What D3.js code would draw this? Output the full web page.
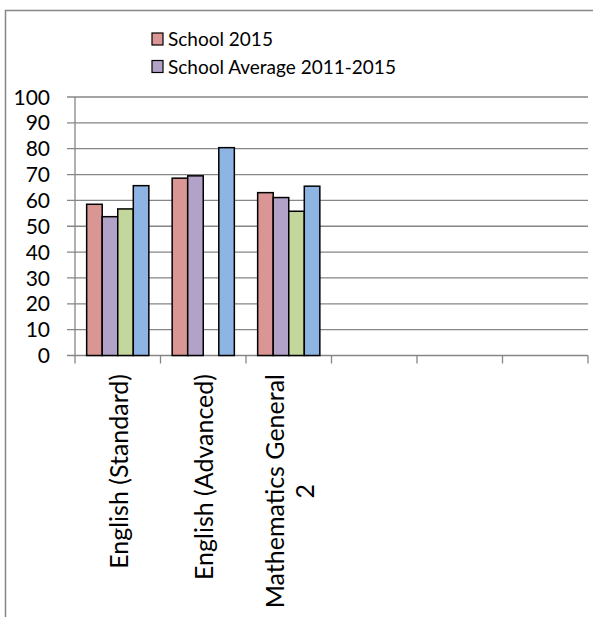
<!DOCTYPE html>
<html>
<head>
<meta charset="utf-8">
<script src="https://cdn.jsdelivr.net/npm/d3@7/dist/d3.min.js"></script>
<style>
  html, body { margin: 0; padding: 0; background: #fff; }
  svg { display: block; font-family: Lato, "Open Sans", sans-serif; }
</style>
</head>
<body>
<svg id="chart" width="593" height="617"></svg>
<script>
// Subject categories (the last three slots are empty in the source workbook)
const categories = ["English (Standard)", "English (Advanced)", "Mathematics General 2", "", "", ""];
const categoryLines = [["English (Standard)"], ["English (Advanced)"], ["Mathematics General", "2"], [], [], []];

// Series
const seriesNames = ["School 2015", "School Average 2011-2015", "State 2015", "State Average 2011-2015"];
const school2015 = [58.5, 68.6, 63.0];
const schoolAvg = [53.7, 69.5, 61.1];
const state2015 = [56.7, null, 55.8];
const stateAvg = [65.7, 80.4, 65.5];
const seriesValues = [school2015, schoolAvg, state2015, stateAvg];
const seriesColors = ["#D99694", "#B3A2C7", "#C3D69B", "#8EB4E3"];

// Legend shows the first two series
const legendEntries = [0, 1];

// Y axis ticks
const yTicks = [0, 10, 20, 30, 40, 50, 60, 70, 80, 90, 100];

const svg = d3.select("#chart");
const gridColor = "#868686";

// Outer chart frame
svg.append("rect")
  .attr("x", 5.5).attr("y", 10.5)
  .attr("width", 700).attr("height", 700)
  .attr("fill", "none").attr("stroke", gridColor).attr("stroke-width", 1.5);

const plot = { left: 75, right: 588, top: 97, bottom: 355.5 };

const x = d3.scaleBand()
  .domain(d3.range(categories.length))
  .range([plot.left, plot.right])
  .paddingInner(0).paddingOuter(0);

const xInner = d3.scaleBand()
  .domain(d3.range(seriesNames.length))
  .range([0, x.bandwidth()])
  .paddingInner(0).paddingOuter(0.75);

const y = d3.scaleLinear().domain([0, 100]).range([plot.bottom, plot.top]);

// Horizontal gridlines with left tick stubs
svg.append("g")
  .selectAll("line")
  .data(yTicks)
  .join("line")
  .attr("x1", plot.left - 8).attr("x2", plot.right)
  .attr("y1", d => y(d)).attr("y2", d => y(d))
  .attr("stroke", gridColor).attr("stroke-width", 1.3);

// Y axis line
svg.append("line")
  .attr("x1", plot.left).attr("x2", plot.left)
  .attr("y1", plot.top).attr("y2", plot.bottom)
  .attr("stroke", gridColor).attr("stroke-width", 1.3);

// Y tick labels
svg.append("g")
  .selectAll("text")
  .data(yTicks)
  .join("text")
  .attr("x", 50).attr("y", d => y(d))
  .attr("dy", "0.36em")
  .attr("text-anchor", "end")
  .attr("font-size", 21)
  .attr("fill", "#000")
  .text(d => d);

// X axis tick marks at category boundaries
const boundaries = d3.range(categories.length + 1).map(i => i < categories.length ? x(i) : x(i - 1) + x.bandwidth());
svg.append("g")
  .selectAll("line")
  .data(boundaries)
  .join("line")
  .attr("x1", d => d).attr("x2", d => d)
  .attr("y1", plot.bottom).attr("y2", plot.bottom + 8)
  .attr("stroke", gridColor).attr("stroke-width", 1.3);

// Bars
const barData = [];
seriesValues.forEach((vals, s) => {
  vals.forEach((v, c) => {
    if (v !== null && v !== undefined) barData.push({ s, c, v });
  });
});

svg.append("g")
  .selectAll("rect")
  .data(barData)
  .join("rect")
  .attr("x", d => x(d.c) + xInner(d.s))
  .attr("width", xInner.bandwidth())
  .attr("y", d => y(d.v))
  .attr("height", d => y(0) - y(d.v))
  .attr("fill", d => seriesColors[d.s])
  .attr("stroke", "#000").attr("stroke-width", 1.5);

// Category labels, rotated; wrapped lines are centred on the longest line
const lineGap = 30;
const labelTop = 374;
const labelG = svg.append("g");
categoryLines.forEach((lines, c) => {
  if (!lines.length) return;
  const cx = x(c) + x.bandwidth() / 2 + 1;
  const texts = lines.map((line, i) => {
    const off = (i - (lines.length - 1) / 2) * lineGap;
    return labelG.append("text")
      .attr("dy", "0.36em")
      .attr("font-size", 25)
      .attr("fill", "#000")
      .attr("text-anchor", "middle")
      .datum(off)
      .text(line);
  });
  const maxLen = d3.max(texts, t => t.node().getComputedTextLength());
  const midY = labelTop + maxLen / 2;
  texts.forEach(t => {
    t.attr("transform", `translate(${cx + t.datum()},${midY}) rotate(-90)`);
  });
});

// Legend
const legend = svg.append("g");
legendEntries.forEach((s, i) => {
  const yy = 46 + i * 27.5;
  legend.append("rect")
    .attr("x", 152).attr("y", yy - 13)
    .attr("width", 11).attr("height", 12)
    .attr("fill", seriesColors[s])
    .attr("stroke", "#000").attr("stroke-width", 1.2);
  legend.append("text")
    .attr("x", 168).attr("y", yy)
    .attr("font-size", 19)
    .attr("fill", "#000")
    .text(seriesNames[s]);
});
</script>
</body>
</html>
